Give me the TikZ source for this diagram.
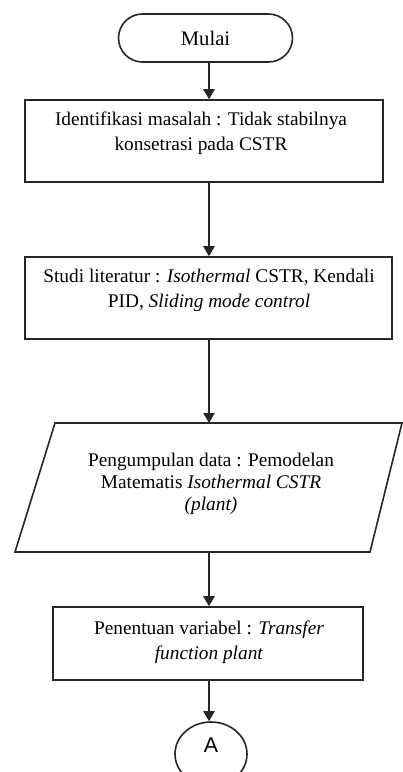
\documentclass[tikz,border=0pt]{standalone}
\usepackage{fontspec}
\setmainfont{Liberation Serif}
\newfontfamily\sansA{Liberation Sans}
\usetikzlibrary{arrows.meta,shapes.misc,shapes.geometric}
\begin{document}
\begin{tikzpicture}[x=0.75pt,y=-0.75pt,
  line/.style={draw=black!85,line width=1.2pt},
  boxnode/.style={line,rectangle,inner sep=0pt},
  txt/.style={align=center,font=\fontsize{14.5}{18.75}\selectfont,inner sep=0pt,anchor=north},
  arr/.style={line,-{Triangle[width=8.5pt,length=7.5pt]}}]
\useasboundingbox (0,0) rectangle (403,772);
\fill[white] (0,0) rectangle (403,772);
\clip (0,0) rectangle (403,772);
\coordinate (ax) at (209,0);

% start
\node[line,rounded rectangle,minimum width=130.5pt,minimum height=36pt,inner sep=0pt,
      font=\fontsize{15.5}{17}\selectfont] (mulai) at (205.5,38) {Mulai};

% boxes
\node[boxnode,minimum width=268.5pt,minimum height=61.5pt] (b1) at (204,141) {};
\node[txt] (t1) at (201,112) {Identifikasi masalah : Tidak stabilnya\\konsetrasi pada CSTR};

\node[boxnode,minimum width=275.25pt,minimum height=61.5pt] (b2) at (208.5,298) {};
\node[txt] (t2) at (209,269) {Studi literatur : \textit{Isothermal} CSTR, Kendali\\PID, \textit{Sliding mode control}};

% parallelogram
\draw[line,line join=miter] (55,423) coordinate (pTL) -- (402,423) coordinate (pTR)
   -- (370,552) coordinate (pBR) -- (15,552) coordinate (pBL) -- cycle;
\coordinate (ptop) at (209,423);
\coordinate (pbot) at (209,552);
\node[txt,font=\fontsize{14.5}{16.5}\selectfont] (tp) at (211,453) {Pengumpulan data : Pemodelan\\Matematis \textit{Isothermal CSTR}\\\textit{(plant)}};

\node[boxnode,minimum width=232.5pt,minimum height=54.75pt] (b3) at (208,643.5) {};
\node[txt] (t3) at (209,621) {Penentuan variabel : \textit{Transfer}\\\textit{function plant}};

% connector A
\node[line,ellipse,minimum width=54pt,minimum height=48pt,inner sep=0pt] (cA) at (211,754) {};
\node[font=\sansA\fontsize{16}{16}\selectfont,inner sep=0pt] (tA) at (211,745) {A};

% arrows
\draw[arr] (mulai.south -| ax) -- (b1.north -| ax);
\draw[arr] (b1.south -| ax) -- (b2.north -| ax);
\draw[arr] (b2.south -| ax) -- (ptop);
\draw[arr] (pbot) -- (b3.north -| ax);
\draw[arr] (b3.south -| ax) -- (cA.north -| ax);
\end{tikzpicture}
\end{document}
